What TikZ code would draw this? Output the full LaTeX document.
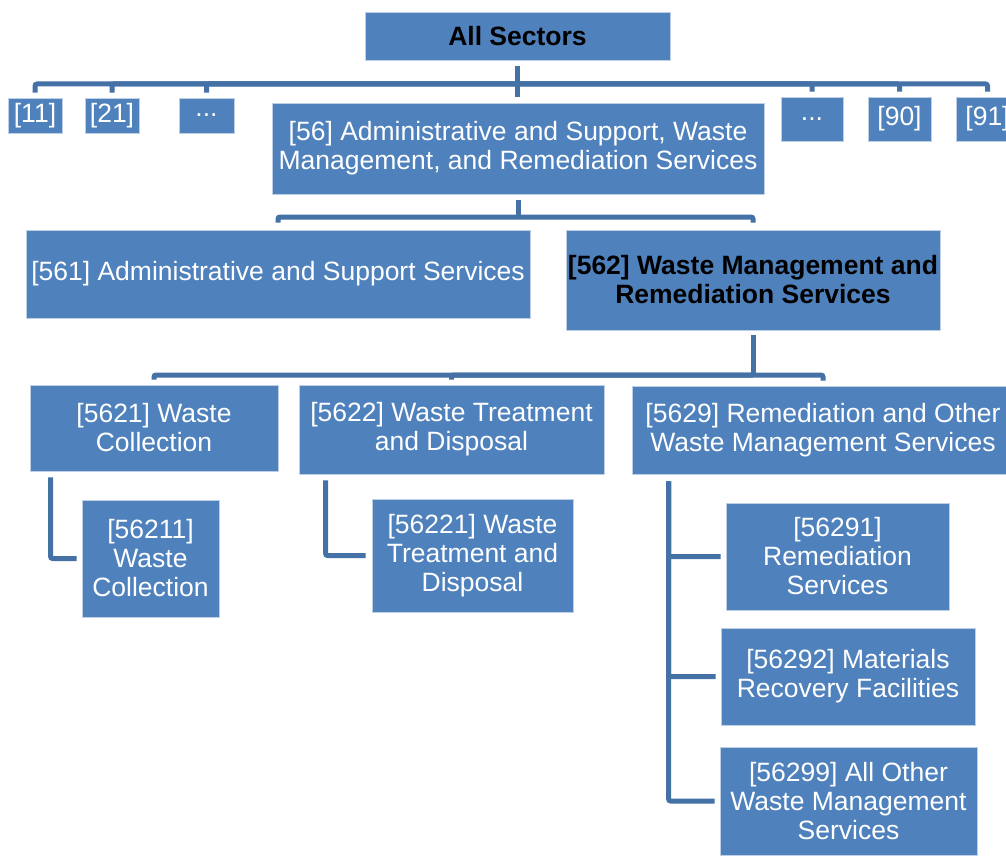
\documentclass[tikz,border=0pt]{standalone}
\usepackage{fontspec}
\setmainfont{Liberation Sans}
\definecolor{boxblue}{RGB}{79,129,189}
\definecolor{boxedge}{RGB}{190,208,230}
\definecolor{linkblue}{RGB}{68,113,166}

\begin{document}
\begin{tikzpicture}[x=1pt,y=-1pt,
  sector/.style={fill=boxblue,draw=boxedge,line width=0.8pt,text=white,align=center,inner sep=0pt,
    font=\fontsize{26.5}{29}\selectfont},
  head/.style={sector,text=black,font=\fontsize{26.5}{29}\selectfont\bfseries},
  link/.style={draw=linkblue,line width=5pt,rounded corners=2pt}]
\useasboundingbox (0,0) rectangle (1006,856);
\clip (0,0) rectangle (1006,856);
\fill[white] (0,0) rectangle (1006,856);

\node[head,minimum width=305pt,minimum height=48pt] (all) at (517.5,36) {All Sectors};
\node[sector,minimum width=54pt,minimum height=35pt] (s11) at (35,115.5) {[11]};
\node[sector,minimum width=54pt,minimum height=35pt] (s21) at (112,115.5) {[21]};
\node[sector,minimum width=55pt,minimum height=35pt] (sdotsL) at (206.5,115.5) {...};
\node[sector,minimum width=492pt,minimum height=91pt] (s56) at (518,148.5) {[56] Administrative and Support, Waste\\Management, and Remediation Services};
\node[sector,minimum width=62pt,minimum height=44pt] (sdotsR) at (812,119) {...};
\node[sector,minimum width=63pt,minimum height=44pt] (s90) at (899.5,119) {[90]};
\node[sector,minimum width=63pt,minimum height=44pt] (s91) at (987.5,119) {[91]};

\node[sector,minimum width=504pt,minimum height=88pt] (s561) at (278,274) {[561] Administrative and Support Services};
\node[head,minimum width=374pt,minimum height=100pt] (s562) at (753,280) {[562] Waste Management and\\Remediation Services};

\node[sector,minimum width=248pt,minimum height=86pt] (s5621) at (154,428) {[5621] Waste\\Collection};
\node[sector,minimum width=305pt,minimum height=89pt] (s5622) at (451.5,429.5) {[5622] Waste Treatment\\and Disposal};
\node[sector,minimum width=382pt,minimum height=88pt] (s5629) at (823,430) {[5629] Remediation and Other\\Waste Management Services};

\node[sector,minimum width=137pt,minimum height=117pt] (s56211) at (150.5,558.5) {[56211]\\Waste\\Collection};
\node[sector,minimum width=201pt,minimum height=113pt] (s56221) at (472.5,555.5) {[56221] Waste\\Treatment and\\Disposal};
\node[sector,minimum width=223pt,minimum height=107pt] (s56291) at (837.5,556.5) {[56291]\\Remediation\\Services};
\node[sector,minimum width=254pt,minimum height=97pt] (s56292) at (848,676.5) {[56292] Materials\\Recovery Facilities};
\node[sector,minimum width=257pt,minimum height=108pt] (s56299) at (848.5,801) {[56299] All Other\\Waste Management\\Services};

\coordinate (hub1) at (518,84);
\coordinate (hub2) at (518,217);
\coordinate (hub3) at (753,375);

\draw[link,shorten <=6pt,shorten >=6pt] (all.south) -- (all.south |- s56.north);
\foreach \n in {s11,s21,sdotsL,sdotsR,s90,s91}
  \draw[link,shorten <=5pt] (\n.north) |- (hub1);

\draw[link,shorten <=6pt] (s56.south) -- (hub2);
\draw[link,shorten <=7pt] (s561.north) |- (hub2);
\draw[link,shorten <=7pt] (s562.north) |- (hub2);

\draw[link,shorten <=5pt] (s562.south) -- (hub3);
\foreach \n in {s5621,s5622,s5629}
  \draw[link,shorten <=5pt] (\n.north) |- (hub3);

\draw[link,shorten <=6pt,shorten >=5pt] ([xshift=21pt]s5621.south west) |- (s56211.west);
\draw[link,shorten <=6pt,shorten >=6pt] ([xshift=27pt]s5622.south west) |- (s56221.west);
\foreach \n in {s56291,s56292,s56299}
  \draw[link,shorten <=7pt,shorten >=5pt] ([xshift=37pt]s5629.south west) |- (\n.west);
\end{tikzpicture}
\end{document}
